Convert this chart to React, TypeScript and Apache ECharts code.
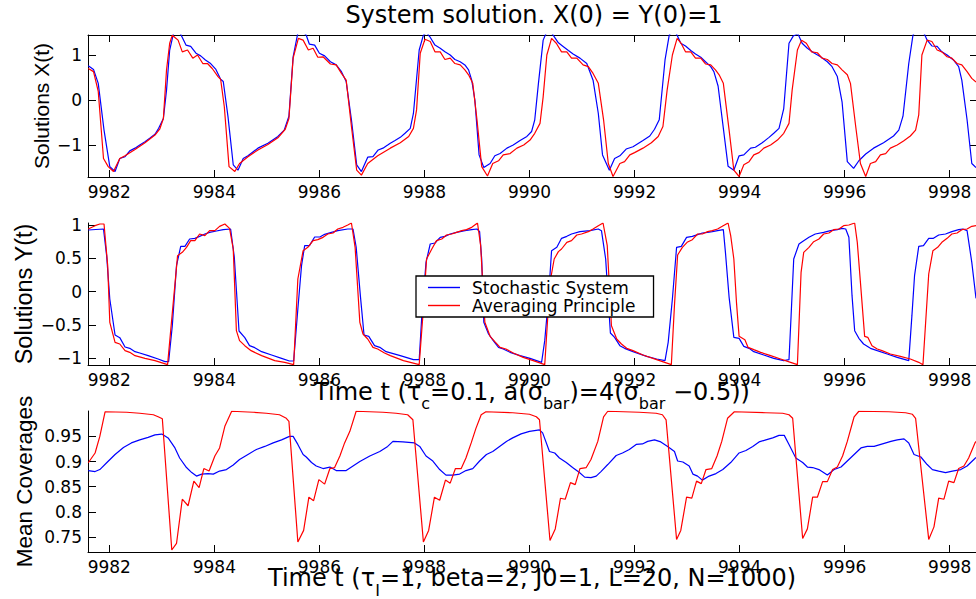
import React, { useEffect, useRef } from 'react';
import * as echarts from 'echarts';

// ---------- tick labels ----------
const xTicks = [9982, 9984, 9986, 9988, 9990, 9992, 9994, 9996, 9998];
const yTicksX = [-1, 0, 1];
const yTicksY = [-1, -0.5, 0, 0.5, 1];
const yTicksCov = [0.75, 0.8, 0.85, 0.9, 0.95];

// ---------- Panel 1: X(t) ----------
const tXStoch = [
  9981.6, 9981.7, 9981.79, 9981.9, 9982.01, 9982.11, 9982.2, 9982.3, 9982.39, 9982.49, 9982.58, 9982.68, 9982.77, 9982.87, 9982.94,
  9983.03, 9983.09, 9983.15, 9983.25, 9983.32, 9983.36, 9983.46, 9983.55, 9983.65, 9983.74, 9983.83, 9983.93, 9984.03, 9984.12, 9984.17,
  9984.26, 9984.36, 9984.45, 9984.55, 9984.64, 9984.74, 9984.83, 9985.02, 9985.21, 9985.33, 9985.42, 9985.5, 9985.6, 9985.7, 9985.75,
  9985.81, 9985.91, 9986.0, 9986.1, 9986.21, 9986.32, 9986.42, 9986.51, 9986.61, 9986.71, 9986.8, 9986.92, 9987.02, 9987.12, 9987.21,
  9987.3, 9987.35, 9987.44, 9987.54, 9987.63, 9987.73, 9987.79, 9987.9, 9987.98, 9988.04, 9988.1, 9988.2, 9988.3, 9988.39, 9988.49,
  9988.58, 9988.68, 9988.77, 9988.84, 9988.9, 9988.96, 9989.04, 9989.13, 9989.25, 9989.34, 9989.44, 9989.57, 9989.69, 9989.82, 9989.95,
  9990.04, 9990.1, 9990.17, 9990.26, 9990.36, 9990.45, 9990.55, 9990.64, 9990.74, 9990.83, 9990.96, 9991.09, 9991.21, 9991.31, 9991.39,
  9991.52, 9991.62, 9991.72, 9991.84, 9991.97, 9992.16, 9992.29, 9992.38, 9992.47, 9992.58, 9992.66, 9992.74, 9992.81, 9992.88, 9992.97,
  9993.07, 9993.16, 9993.26, 9993.35, 9993.45, 9993.51, 9993.59, 9993.78, 9993.89, 9993.99, 9994.08, 9994.21, 9994.3, 9994.43, 9994.56,
  9994.65, 9994.75, 9994.84, 9994.94, 9995.02, 9995.11, 9995.19, 9995.29, 9995.41, 9995.54, 9995.67, 9995.76, 9995.86, 9995.95, 9996.05,
  9996.17, 9996.27, 9996.4, 9996.55, 9996.74, 9996.93, 9997.03, 9997.11, 9997.22, 9997.3, 9997.4, 9997.52, 9997.57, 9997.66, 9997.76,
  9997.85, 9997.95, 9998.07, 9998.17, 9998.23, 9998.33, 9998.42, 9998.5,
];
const xStoch = [
  0.76, 0.68, 0.37, -0.67, -1.48, -1.59, -1.3, -1.26, -1.13, -1.07, -1.0, -0.93, -0.85, -0.76, -0.63,
  -0.41, 0.22, 1.11, 1.62, 1.58, 1.46, 1.22, 1.19, 1.04, 0.98, 0.89, 0.81, 0.68, 0.46, 0.41,
  -0.37, -1.44, -1.56, -1.3, -1.24, -1.15, -1.07, -0.96, -0.81, -0.67, -0.36, 0.96, 1.55, 1.5, 1.44,
  1.24, 1.22, 1.04, 0.98, 0.85, 0.78, 0.63, 0.41, -0.44, -1.44, -1.59, -1.27, -1.26, -1.11, -1.07,
  -1.0, -0.96, -0.9, -0.83, -0.74, -0.63, -0.3, 1.11, 1.44, 1.5, 1.41, 1.22, 1.15, 1.07, 1.0,
  0.9, 0.85, 0.78, 0.67, 0.44, 0.0, -1.22, -1.5, -1.41, -1.24, -1.19, -1.07, -1.0, -0.9, -0.81,
  -0.7, -0.44, 0.37, 1.33, 1.6, 1.44, 1.27, 1.19, 1.1, 1.02, 0.93, 0.81, 0.44, -0.3, -1.22,
  -1.56, -1.3, -1.24, -1.09, -1.04, -0.9, -0.8, -0.65, -0.44, 0.89, 1.44, 1.58, 1.44, 1.26, 1.2,
  1.1, 1.02, 0.95, 0.85, 0.74, 0.63, 0.31, -1.47, -1.56, -1.24, -1.22, -1.07, -1.05, -0.95, -0.83,
  -0.74, -0.63, -0.19, 1.26, 1.42, 1.47, 1.26, 1.15, 1.05, 0.96, 0.85, 0.74, 0.52, -0.04, -1.37,
  -1.52, -1.35, -1.2, -1.07, -0.95, -0.8, -0.67, -0.36, 0.81, 1.44, 1.62, 1.46, 1.33, 1.2, 1.19,
  1.07, 1.0, 0.89, 0.74, 0.44, -0.44, -1.41, -1.5,
];

const tXAvg = [
  9981.6, 9981.7, 9981.79, 9981.89, 9981.98, 9982.08, 9982.2, 9982.3, 9982.49, 9982.68, 9982.87, 9982.96, 9983.03, 9983.09, 9983.15,
  9983.2, 9983.25, 9983.31, 9983.39, 9983.49, 9983.59, 9983.68, 9983.78, 9983.87, 9983.96, 9984.07, 9984.12, 9984.19, 9984.28, 9984.39,
  9984.48, 9984.64, 9984.83, 9985.02, 9985.21, 9985.35, 9985.42, 9985.5, 9985.6, 9985.69, 9985.79, 9985.88, 9985.97, 9986.07, 9986.21,
  9986.32, 9986.42, 9986.51, 9986.61, 9986.71, 9986.8, 9986.92, 9987.11, 9987.35, 9987.54, 9987.7, 9987.79, 9987.85, 9987.92, 9988.01,
  9988.11, 9988.2, 9988.3, 9988.39, 9988.49, 9988.58, 9988.68, 9988.77, 9988.84, 9988.92, 9989.0, 9989.09, 9989.2, 9989.3, 9989.41,
  9989.5, 9989.63, 9989.76, 9989.89, 9990.01, 9990.1, 9990.2, 9990.26, 9990.33, 9990.42, 9990.51, 9990.61, 9990.71, 9990.8, 9990.9,
  9991.02, 9991.12, 9991.21, 9991.31, 9991.41, 9991.5, 9991.59, 9991.72, 9991.81, 9991.91, 9992.0, 9992.16, 9992.32, 9992.45, 9992.54,
  9992.62, 9992.72, 9992.81, 9992.88, 9992.97, 9993.07, 9993.16, 9993.26, 9993.35, 9993.45, 9993.54, 9993.61, 9993.69, 9993.8, 9993.89,
  9993.99, 9994.08, 9994.18, 9994.27, 9994.37, 9994.46, 9994.59, 9994.72, 9994.84, 9994.94, 9995.0, 9995.1, 9995.18, 9995.27, 9995.37,
  9995.48, 9995.57, 9995.67, 9995.76, 9995.86, 9995.95, 9996.05, 9996.11, 9996.21, 9996.3, 9996.4, 9996.49, 9996.59, 9996.68, 9996.78,
  9996.87, 9997.0, 9997.12, 9997.25, 9997.35, 9997.41, 9997.47, 9997.57, 9997.66, 9997.76, 9997.85, 9997.95, 9998.04, 9998.14, 9998.23,
  9998.33, 9998.42, 9998.5,
];
const xAvg = [
  0.7, 0.63, 0.19, -1.3, -1.48, -1.59, -1.3, -1.24, -1.1, -0.95, -0.78, -0.65, -0.41, 0.67, 1.26,
  1.44, 1.39, 1.33, 1.07, 1.11, 0.93, 1.0, 0.81, 0.81, 0.7, 0.52, 0.46, -0.15, -1.48, -1.59,
  -1.41, -1.26, -1.11, -0.99, -0.84, -0.65, -0.41, 0.93, 1.37, 1.33, 1.11, 1.15, 0.95, 0.96, 0.8,
  0.78, 0.59, 0.44, -0.59, -1.56, -1.67, -1.41, -1.24, -1.07, -0.95, -0.81, -0.63, -0.22, 1.04, 1.35,
  1.3, 1.07, 1.07, 0.9, 0.93, 0.81, 0.78, 0.67, 0.56, 0.37, -0.44, -1.48, -1.69, -1.41, -1.35,
  -1.22, -1.19, -1.07, -1.0, -0.89, -0.74, -0.52, 0.07, 1.0, 1.37, 1.26, 1.07, 1.07, 0.93, 0.93,
  0.78, 0.74, 0.59, 0.37, -0.44, -1.41, -1.7, -1.41, -1.37, -1.22, -1.17, -1.07, -0.95, -0.81, -0.59,
  0.22, 1.0, 1.37, 1.27, 1.07, 1.07, 0.93, 0.93, 0.8, 0.78, 0.67, 0.56, 0.37, -0.67, -1.56,
  -1.7, -1.44, -1.37, -1.22, -1.17, -1.07, -1.0, -0.89, -0.74, -0.52, 0.22, 1.11, 1.33, 1.26, 1.07,
  1.05, 0.93, 0.9, 0.81, 0.78, 0.67, 0.56, 0.37, -0.59, -1.41, -1.7, -1.41, -1.37, -1.22, -1.19,
  -1.07, -1.0, -0.91, -0.8, -0.67, -0.33, 1.0, 1.33, 1.3, 1.11, 1.07, 0.96, 0.93, 0.81, 0.78,
  0.63, 0.48, 0.4,
];

// ---------- Panel 2: Y(t) ----------
const tYStoch = [
  9981.6, 9981.89, 9981.95, 9982.01, 9982.11, 9982.2, 9982.3, 9982.39, 9982.49, 9982.58, 9982.74, 9982.93, 9983.06, 9983.13, 9983.2,
  9983.28, 9983.36, 9983.44, 9983.53, 9983.63, 9983.72, 9983.82, 9983.91, 9984.04, 9984.17, 9984.31, 9984.38, 9984.47, 9984.58, 9984.67,
  9984.77, 9984.9, 9985.09, 9985.28, 9985.43, 9985.51, 9985.59, 9985.66, 9985.72, 9985.81, 9985.91, 9986.01, 9986.1, 9986.23, 9986.35,
  9986.54, 9986.64, 9986.7, 9986.78, 9986.85, 9986.94, 9987.05, 9987.15, 9987.27, 9987.54, 9987.79, 9987.9, 9987.95, 9988.03, 9988.11,
  9988.2, 9988.3, 9988.39, 9988.49, 9988.61, 9988.77, 9988.9, 9989.0, 9989.05, 9989.09, 9989.13, 9989.22, 9989.31, 9989.41, 9989.5,
  9989.63, 9989.82, 9990.01, 9990.23, 9990.29, 9990.36, 9990.42, 9990.52, 9990.61, 9990.71, 9990.8, 9990.96, 9991.15, 9991.31, 9991.37,
  9991.45, 9991.54, 9991.62, 9991.72, 9991.81, 9991.97, 9992.23, 9992.42, 9992.58, 9992.64, 9992.72, 9992.8, 9992.89, 9992.99, 9993.1,
  9993.2, 9993.29, 9993.39, 9993.48, 9993.58, 9993.69, 9993.73, 9993.8, 9993.89, 9993.99, 9994.08, 9994.18, 9994.27, 9994.46, 9994.65,
  9994.84, 9994.94, 9994.98, 9995.03, 9995.13, 9995.22, 9995.32, 9995.44, 9995.6, 9995.73, 9995.86, 9995.95, 9996.02, 9996.08, 9996.14,
  9996.19, 9996.27, 9996.36, 9996.49, 9996.62, 9996.81, 9997.0, 9997.22, 9997.28, 9997.33, 9997.41, 9997.5, 9997.6, 9997.69, 9997.79,
  9997.92, 9998.04, 9998.17, 9998.25, 9998.33, 9998.42, 9998.5,
];
const yStoch = [
  0.925, 0.94, 0.54, -0.11, -0.65, -0.69, -0.83, -0.85, -0.9, -0.92, -0.96, -1.01, -1.05, -1.05, -0.51,
  0.39, 0.68, 0.68, 0.79, 0.8, 0.83, 0.865, 0.89, 0.91, 0.93, 0.94, 0.52, -0.59, -0.69, -0.81,
  -0.84, -0.9, -0.95, -1.0, -1.04, -1.04, -0.26, 0.39, 0.69, 0.69, 0.82, 0.82, 0.86, 0.89, 0.915,
  0.94, 0.94, 0.67, -0.06, -0.65, -0.67, -0.81, -0.835, -0.9, -0.96, -1.02, -1.02, -0.36, 0.44, 0.715,
  0.73, 0.815, 0.83, 0.865, 0.89, 0.915, 0.93, 0.94, 0.9, 0.49, -0.46, -0.635, -0.735, -0.835, -0.86,
  -0.91, -0.96, -1.0, -1.06, -0.735, -0.11, 0.615, 0.665, 0.8, 0.83, 0.865, 0.9, 0.915, 0.94, 0.915,
  0.49, -0.62, -0.685, -0.81, -0.85, -0.9, -0.97, -1.01, -1.035, -0.76, -0.11, 0.665, 0.68, 0.815, 0.83,
  0.855, 0.88, 0.89, 0.9, 0.915, 0.93, 0.59, -0.085, -0.685, -0.7, -0.82, -0.85, -0.9, -0.95, -1.0,
  -1.035, -1.02, -0.36, 0.49, 0.715, 0.765, 0.815, 0.865, 0.89, 0.915, 0.93, 0.95, 0.94, 0.815, -0.06,
  -0.585, -0.7, -0.785, -0.85, -0.885, -0.935, -0.985, -1.035, -0.36, 0.24, 0.68, 0.69, 0.8, 0.8, 0.85,
  0.865, 0.9, 0.93, 0.94, 0.915, 0.44, -0.1,
];

const tYAvg = [
  9981.6, 9981.73, 9981.82, 9981.9, 9981.97, 9982.01, 9982.11, 9982.2, 9982.3, 9982.39, 9982.49, 9982.68, 9982.87, 9983.11, 9983.3,
  9983.39, 9983.47, 9983.55, 9983.63, 9983.72, 9983.82, 9983.91, 9984.01, 9984.1, 9984.2, 9984.29, 9984.36, 9984.42, 9984.48, 9984.58,
  9984.7, 9984.9, 9985.15, 9985.34, 9985.51, 9985.59, 9985.69, 9985.78, 9985.88, 9985.97, 9986.07, 9986.16, 9986.26, 9986.35, 9986.45,
  9986.54, 9986.61, 9986.68, 9986.77, 9986.83, 9986.92, 9987.02, 9987.11, 9987.24, 9987.35, 9987.6, 9987.9, 9987.97, 9988.04, 9988.14,
  9988.23, 9988.33, 9988.42, 9988.52, 9988.61, 9988.71, 9988.8, 9988.9, 9989.01, 9989.07, 9989.15, 9989.25, 9989.34, 9989.44, 9989.55,
  9989.69, 9989.88, 9990.07, 9990.29, 9990.39, 9990.47, 9990.55, 9990.61, 9990.71, 9990.8, 9990.9, 9990.99, 9991.12, 9991.21, 9991.31,
  9991.4, 9991.48, 9991.56, 9991.66, 9991.75, 9991.85, 9991.97, 9992.16, 9992.42, 9992.7, 9992.76, 9992.82, 9992.91, 9993.0, 9993.1,
  9993.2, 9993.29, 9993.39, 9993.48, 9993.58, 9993.67, 9993.78, 9993.83, 9993.89, 9993.94, 9993.99, 9994.1, 9994.16, 9994.27, 9994.4,
  9994.59, 9994.78, 9994.97, 9995.1, 9995.17, 9995.22, 9995.32, 9995.41, 9995.51, 9995.6, 9995.7, 9995.79, 9995.89, 9995.98, 9996.08,
  9996.19, 9996.24, 9996.3, 9996.38, 9996.44, 9996.52, 9996.62, 9996.71, 9996.87, 9997.06, 9997.25, 9997.41, 9997.49, 9997.6, 9997.68,
  9997.77, 9997.85, 9997.95, 9998.04, 9998.14, 9998.23, 9998.33, 9998.42, 9998.5,
];
const yAvg = [
  0.94, 0.99, 1.015, 1.015, 0.39, -0.46, -0.76, -0.785, -0.885, -0.91, -0.96, -1.0, -1.035, -1.095, 0.54,
  0.59, 0.665, 0.765, 0.765, 0.865, 0.84, 0.915, 0.915, 0.98, 1.015, 0.95, 0.64, -0.585, -0.735, -0.81,
  -0.885, -0.96, -1.035, -1.06, -1.095, 0.19, 0.615, 0.665, 0.765, 0.78, 0.815, 0.865, 0.88, 0.94, 0.965,
  1.0, 1.03, 0.665, -0.46, -0.635, -0.71, -0.835, -0.86, -0.92, -0.96, -1.035, -1.095, -0.36, 0.49, 0.64,
  0.765, 0.79, 0.85, 0.865, 0.89, 0.915, 0.93, 0.965, 1.03, 0.69, -0.46, -0.67, -0.75, -0.835, -0.86,
  -0.92, -0.985, -1.035, -1.095, 0.14, 0.49, 0.6, 0.64, 0.74, 0.765, 0.85, 0.865, 0.9, 0.94, 0.99,
  1.03, 0.69, -0.51, -0.71, -0.785, -0.85, -0.885, -0.95, -1.02, -1.095, -0.2, 0.55, 0.665, 0.74, 0.78,
  0.865, 0.865, 0.9, 0.915, 0.94, 0.98, 1.03, 0.84, 0.49, -0.16, -0.67, -0.72, -0.835, -0.87, -0.91,
  -0.96, -1.01, -1.06, -1.095, 0.29, 0.59, 0.665, 0.75, 0.79, 0.865, 0.88, 0.93, 0.94, 0.99, 1.0,
  1.03, 0.74, 0.14, -0.67, -0.685, -0.81, -0.86, -0.885, -0.935, -0.97, -1.01, -1.06, -1.095, 0.265, 0.615,
  0.665, 0.74, 0.8, 0.865, 0.88, 0.93, 0.94, 0.98, 0.99,
];

// ---------- Panel 3: Mean coverages ----------
const tCovStoch = [
  9981.6, 9981.73, 9981.82, 9981.95, 9982.11, 9982.27, 9982.42, 9982.58, 9982.74, 9982.87, 9983.0, 9983.12, 9983.25, 9983.34, 9983.47,
  9983.57, 9983.66, 9983.76, 9983.88, 9983.98, 9984.1, 9984.23, 9984.36, 9984.48, 9984.64, 9984.8, 9984.96, 9985.12, 9985.28, 9985.43,
  9985.5, 9985.59, 9985.69, 9985.75, 9985.85, 9985.94, 9986.07, 9986.2, 9986.32, 9986.51, 9986.64, 9986.77, 9986.96, 9987.15, 9987.3,
  9987.4, 9987.59, 9987.81, 9987.91, 9988.03, 9988.16, 9988.29, 9988.41, 9988.54, 9988.67, 9988.79, 9988.92, 9989.05, 9989.18, 9989.3,
  9989.43, 9989.56, 9989.68, 9989.84, 9990.0, 9990.19, 9990.25, 9990.38, 9990.48, 9990.57, 9990.7, 9990.82, 9990.95, 9991.05, 9991.17,
  9991.27, 9991.36, 9991.49, 9991.65, 9991.77, 9991.9, 9992.03, 9992.15, 9992.25, 9992.38, 9992.5, 9992.63, 9992.76, 9992.82, 9992.92,
  9993.04, 9993.11, 9993.2, 9993.29, 9993.42, 9993.55, 9993.68, 9993.83, 9993.99, 9994.12, 9994.25, 9994.37, 9994.5, 9994.63, 9994.75,
  9994.85, 9994.94, 9995.07, 9995.2, 9995.29, 9995.39, 9995.51, 9995.67, 9995.8, 9995.93, 9996.05, 9996.18, 9996.31, 9996.43, 9996.56,
  9996.72, 9996.88, 9997.0, 9997.13, 9997.22, 9997.32, 9997.45, 9997.57, 9997.67, 9997.79, 9997.92, 9998.05, 9998.21, 9998.33, 9998.46,
  9998.5,
];
const covStoch = [
  0.882, 0.88, 0.884, 0.8975, 0.914, 0.928, 0.937, 0.943, 0.948, 0.953, 0.9546, 0.947, 0.927, 0.907, 0.888,
  0.878, 0.871, 0.875, 0.876, 0.875, 0.881, 0.884, 0.893, 0.904, 0.914, 0.924, 0.93, 0.937, 0.943, 0.95,
  0.95, 0.934, 0.914, 0.909, 0.898, 0.891, 0.886, 0.889, 0.882, 0.882, 0.891, 0.9, 0.911, 0.92, 0.93,
  0.94, 0.939, 0.937, 0.93, 0.911, 0.901, 0.884, 0.873, 0.873, 0.875, 0.882, 0.886, 0.901, 0.914, 0.92,
  0.93, 0.94, 0.947, 0.955, 0.96, 0.963, 0.957, 0.92, 0.917, 0.907, 0.898, 0.888, 0.878, 0.869, 0.868,
  0.871, 0.88, 0.894, 0.912, 0.917, 0.924, 0.934, 0.935, 0.94, 0.943, 0.939, 0.93, 0.92, 0.901, 0.899,
  0.891, 0.875, 0.871, 0.863, 0.871, 0.876, 0.884, 0.898, 0.917, 0.922, 0.93, 0.939, 0.943, 0.947, 0.952,
  0.952, 0.934, 0.907, 0.898, 0.889, 0.888, 0.884, 0.873, 0.884, 0.889, 0.901, 0.914, 0.927, 0.93, 0.93,
  0.935, 0.94, 0.943, 0.945, 0.937, 0.914, 0.909, 0.894, 0.884, 0.881, 0.878, 0.881, 0.884, 0.891, 0.904,
  0.908,
];

const tCovAvg = [
  9981.6, 9981.73, 9981.82, 9981.92, 9982.33, 9982.58, 9982.84, 9982.93, 9983.01, 9983.19, 9983.28, 9983.39, 9983.5, 9983.61, 9983.71,
  9983.8, 9983.9, 9984.01, 9984.1, 9984.2, 9984.33, 9984.74, 9984.99, 9985.24, 9985.37, 9985.42, 9985.59, 9985.7, 9985.8, 9985.89,
  9985.99, 9986.1, 9986.2, 9986.29, 9986.39, 9986.48, 9986.58, 9986.7, 9987.21, 9987.46, 9987.68, 9987.78, 9987.98, 9988.08, 9988.19,
  9988.29, 9988.4, 9988.49, 9988.59, 9988.7, 9988.79, 9988.89, 9988.98, 9989.08, 9989.17, 9989.68, 9990.0, 9990.13, 9990.19, 9990.39,
  9990.49, 9990.59, 9990.68, 9990.78, 9990.87, 9990.96, 9991.08, 9991.17, 9991.3, 9991.41, 9991.49, 9992.09, 9992.41, 9992.53, 9992.6,
  9992.8, 9992.88, 9992.99, 9993.09, 9993.18, 9993.27, 9993.36, 9993.47, 9993.57, 9993.66, 9993.77, 9993.9, 9994.5, 9994.82, 9994.94,
  9995.01, 9995.2, 9995.29, 9995.39, 9995.48, 9995.58, 9995.67, 9995.77, 9995.86, 9995.96, 9996.05, 9996.18, 9996.27, 9996.84, 9997.16,
  9997.29, 9997.35, 9997.6, 9997.7, 9997.79, 9997.89, 9997.98, 9998.08, 9998.17, 9998.27, 9998.36, 9998.48, 9998.5,
];
const covAvg = [
  0.8975, 0.917, 0.95, 0.999, 0.998, 0.996, 0.993, 0.989, 0.985, 0.724, 0.737, 0.825, 0.812, 0.861, 0.848,
  0.886, 0.881, 0.911, 0.927, 0.97, 1.0, 0.998, 0.996, 0.993, 0.986, 0.98, 0.74, 0.763, 0.829, 0.822,
  0.864, 0.855, 0.886, 0.888, 0.911, 0.937, 0.96, 1.0, 0.998, 0.996, 0.993, 0.983, 0.74, 0.763, 0.829,
  0.823, 0.863, 0.857, 0.886, 0.886, 0.907, 0.937, 0.966, 0.993, 0.999, 0.997, 0.994, 0.989, 0.983, 0.743,
  0.766, 0.827, 0.825, 0.858, 0.854, 0.886, 0.888, 0.904, 0.94, 0.989, 1.0, 0.998, 0.996, 0.993, 0.983,
  0.745, 0.763, 0.829, 0.827, 0.861, 0.856, 0.884, 0.886, 0.911, 0.94, 0.986, 0.999, 0.997, 0.996, 0.993,
  0.986, 0.747, 0.766, 0.829, 0.829, 0.86, 0.86, 0.884, 0.889, 0.911, 0.94, 0.989, 1.0, 0.999, 0.997,
  0.994, 0.986, 0.745, 0.77, 0.827, 0.825, 0.861, 0.858, 0.886, 0.891, 0.907, 0.937, 0.94,
];

const seriesNames = ['Stochastic System', 'Averaging Principle'];
const seriesColors = ['#0000ff', '#ff0000'];

const pairs = (t: number[], v: number[]) => t.map((ti, i) => [ti, v[i]]);
const minus = (v: number) => String(v).replace('-', '\u2212');

const FONT = "'DejaVu Sans', 'Liberation Sans', sans-serif";
const NAMEFONT = "'Liberation Sans Narrow', 'Liberation Sans', Arial, sans-serif";
const X_MIN = 9981.595;
const X_MAX = 9998.5;

function buildOption(): any {
  const axisLine = { show: true, onZero: false, lineStyle: { color: '#000', width: 1 } };
  const label = (fmt: (v: number) => string, custom: number[], margin: number, lineHeight?: number) => ({
    show: true,
    color: '#000',
    fontFamily: FONT,
    fontSize: 17,
    margin,
    lineHeight,
    customValues: custom,
    formatter: fmt,
  });
  const tick = (custom: number[], length: number) => ({
    show: true,
    inside: true,
    length,
    customValues: custom,
    lineStyle: { color: '#000', width: 1 },
  });
  const xBase = (gridIndex: number) => ({
    type: 'value',
    gridIndex,
    min: X_MIN,
    max: X_MAX,
    splitLine: { show: false },
    axisLine,
    axisTick: tick(xTicks, 7),
    axisLabel: label((v: number) => String(v), xTicks, 8.5, 12),
  });
  // main text sits at the top of the line box, subscripts at its bottom
  const rich = {
    m: { fontFamily: FONT, fontSize: 24, height: 14, lineHeight: 14, verticalAlign: 'top', color: '#000' },
    s: { fontFamily: FONT, fontSize: 16, height: 14, lineHeight: 26, verticalAlign: 'bottom', color: '#000' },
  };
  const yName = (name: string, gap: number, size: number) => ({
    name,
    nameLocation: 'middle',
    nameRotate: 90,
    nameGap: gap,
    nameMoveOverlap: false,
    nameTextStyle: { fontFamily: NAMEFONT, fontSize: size, color: '#000', lineHeight: size },
  });

  const lineSeries = (idx: number, xi: number, yi: number, data: number[][]) => ({
    type: 'line',
    name: seriesNames[idx],
    xAxisIndex: xi,
    yAxisIndex: yi,
    data,
    symbol: 'none',
    showSymbol: false,
    clip: true,
    lineStyle: { color: seriesColors[idx], width: 1.2 },
    itemStyle: { color: seriesColors[idx] },
    z: 2 + idx,
  });

  return {
    animation: false,
    backgroundColor: '#fff',
    title: {
      text: 'System solution. X(0) = Y(0)=1',
      left: 534,
      top: 3,
      padding: 0,
      textAlign: 'center',
      textStyle: { fontFamily: FONT, fontSize: 24, lineHeight: 24, fontWeight: 'normal', color: '#000' },
    },
    legend: {
      data: seriesNames,
      orient: 'vertical',
      left: 416,
      top: 276,
      padding: [3, 18, 3, 12],
      icon: 'rect',
      itemWidth: 32,
      itemHeight: 1.4,
      itemGap: 1,
      backgroundColor: '#fff',
      borderColor: '#000',
      borderWidth: 1.3,
      borderRadius: 0,
      textStyle: { fontFamily: FONT, fontSize: 17, color: '#000', lineHeight: 16, padding: [0, 0, 0, 7] },
    },
    grid: [
      { left: 88, top: 35, width: 889, height: 142 },
      { left: 88, top: 223, width: 889, height: 142 },
      { left: 88, top: 411, width: 889, height: 142 },
    ],
    xAxis: [
      { ...xBase(0), position: 'bottom' },
      { ...xBase(0), position: 'top', axisLabel: { show: false } },
      {
        ...xBase(1),
        position: 'bottom',
        name: '{m|Time t (τ}{s|c}{m|=0.1, a(σ}{s|bar}{m|)=4(σ}{s|bar}{m| −0.5))}',
        nameLocation: 'middle',
        nameGap: 19.5,
        nameMoveOverlap: false,
        nameTextStyle: { rich },
      },
      {
        ...xBase(2),
        position: 'bottom',
        name: '{m|Time t (τ}{s|I}{m|=1, beta=2, J0=1, L=20, N=1000)}',
        nameLocation: 'middle',
        nameGap: 19,
        nameMoveOverlap: false,
        nameTextStyle: { rich },
      },
    ],
    yAxis: [
      {
        type: 'value',
        gridIndex: 0,
        position: 'left',
        min: -1.711,
        max: 1.444,
        splitLine: { show: false },
        axisLine,
        axisTick: tick(yTicksX, 8),
        axisLabel: label(minus, yTicksX, 6),
        ...yName('Solutions X(t)', 36.5, 21),
      },
      {
        type: 'value',
        gridIndex: 0,
        position: 'right',
        min: -1.711,
        max: 1.444,
        splitLine: { show: false },
        axisLine,
        axisTick: tick(yTicksX, 6),
        axisLabel: { show: false },
      },
      {
        type: 'value',
        gridIndex: 1,
        position: 'left',
        min: -1.1,
        max: 1.03,
        splitLine: { show: false },
        axisLine,
        axisTick: tick(yTicksY, 8),
        axisLabel: label(minus, yTicksY, 6),
        ...yName('Solutions Y(t)', 52, 23.5),
      },
      {
        type: 'value',
        gridIndex: 2,
        position: 'left',
        min: 0.72,
        max: 1.0005,
        splitLine: { show: false },
        axisLine,
        axisTick: tick(yTicksCov, 8),
        axisLabel: label(minus, yTicksCov, 6),
        ...yName('Mean Coverages', 52, 22.5),
      },
    ],
    series: [
      lineSeries(0, 0, 0, pairs(tXStoch, xStoch)),
      lineSeries(1, 0, 0, pairs(tXAvg, xAvg)),
      lineSeries(0, 2, 2, pairs(tYStoch, yStoch)),
      lineSeries(1, 2, 2, pairs(tYAvg, yAvg)),
      lineSeries(0, 3, 3, pairs(tCovStoch, covStoch)),
      lineSeries(1, 3, 3, pairs(tCovAvg, covAvg)),
    ],
  };
}

export default function App() {
  const ref = useRef<HTMLDivElement>(null);
  useEffect(() => {
    document.body.style.margin = '0';
    const chart = echarts.init(ref.current as HTMLDivElement, null, { renderer: 'svg' });
    chart.setOption(buildOption());
    return () => chart.dispose();
  }, []);
  return (
    <div
      ref={ref}
      style={{ position: 'fixed', left: 0, top: 0, width: 976, height: 599, background: '#fff' }}
    />
  );
}
